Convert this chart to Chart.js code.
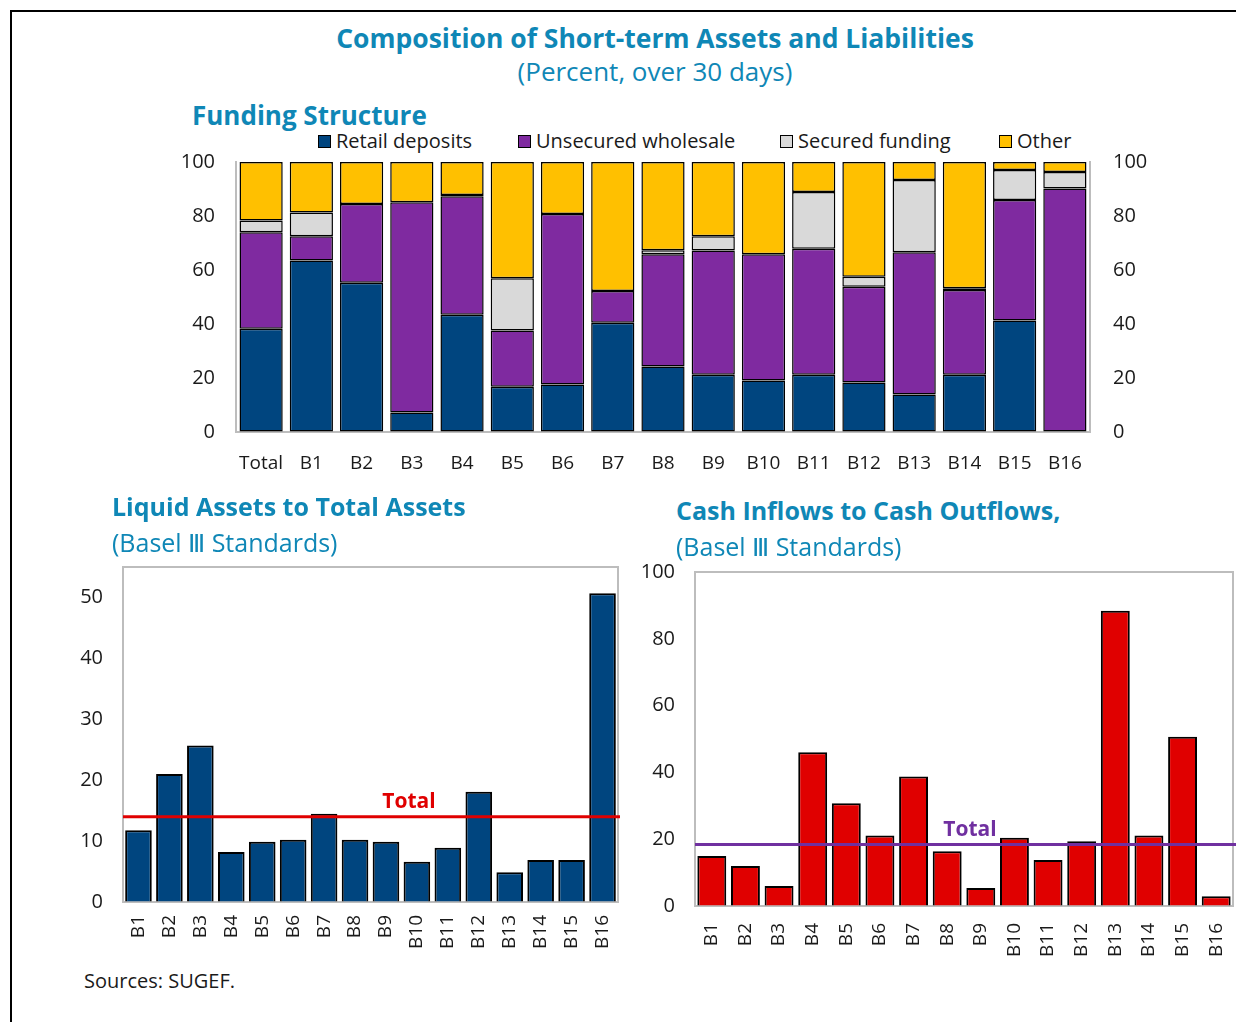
<!DOCTYPE html>
<html lang="en">
<head>
<meta charset="UTF-8">
<title>Composition of Short-term Assets and Liabilities</title>
<script src="https://cdn.jsdelivr.net/npm/chart.js"></script>
<style>
    body { margin: 0; background: #fff; font-family: 'Open Sans', sans-serif; }
    .page { position: relative; width: 1236px; height: 1022px; overflow: hidden; }
    .frame { position: absolute; left: 10px; top: 10px; right: -4px; bottom: -4px; border-left: 2px solid #000; border-top: 2px solid #000; }
    .t { position: absolute; white-space: nowrap; color: #0f87b6; line-height: 1; }
    .b { font-weight: 700; }
    canvas { position: absolute; }
    .legend { position: absolute; top: 131px; left: 0; font-size: 20px; color: #1a1a1a; line-height: 1; }
    .legend span.item { position: absolute; display: flex; align-items: center; white-space: nowrap; }
    .legend i { display: inline-block; width: 11px; height: 11px; border: 1.5px solid #000; margin-right: 5px; }
    .src { position: absolute; left: 84px; top: 967px; font-size: 20px; color: #1a1a1a; }
</style>
</head>
<body>
<div class="page">
    <div class="frame"></div>

    <div class="t b" style="left:0;width:1310px;text-align:center;top:25px;font-size:26.5px;">Composition of Short-term Assets and Liabilities</div>
    <div class="t" style="left:0;width:1310px;text-align:center;top:58px;font-size:26px;">(Percent, over 30 days)</div>

    <div class="t b" style="left:192px;top:102px;font-size:26px;">Funding Structure</div>
    <div class="legend" id="legend"></div>
    <canvas id="fundingChart" width="1030" height="363" style="left:150px;top:127px;"></canvas>

    <div class="t b" style="left:112px;top:494px;font-size:25px;">Liquid Assets to Total Assets</div>
    <div class="t" style="left:112px;top:530px;font-size:25px;">(Basel Ⅲ Standards)</div>
    <canvas id="liquidChart" width="590" height="430" style="left:40px;top:535px;"></canvas>

    <div class="t b" style="left:676px;top:498px;font-size:25px;">Cash Inflows to Cash Outflows,</div>
    <div class="t" style="left:676px;top:534px;font-size:25px;">(Basel Ⅲ Standards)</div>
    <canvas id="inflowChart" width="616" height="425" style="left:620px;top:540px;"></canvas>

    <div class="src">Sources: SUGEF.</div>
</div>

<script>
    // Funding structure, percent of total
    const fundingLabels = ['Total', 'B1', 'B2', 'B3', 'B4', 'B5', 'B6', 'B7', 'B8', 'B9', 'B10', 'B11', 'B12', 'B13', 'B14', 'B15', 'B16'];
    const retailDeposits = [38.2, 63.5, 55.3, 7.2, 43.4, 16.8, 17.6, 40.5, 24.3, 21.2, 19.1, 21.2, 18.3, 13.9, 21.2, 41.3, 0];
    const unsecuredWholesale = [35.8, 9.0, 29.1, 77.9, 43.9, 20.8, 63.1, 11.7, 41.5, 46.0, 46.7, 46.7, 35.5, 52.7, 31.4, 44.6, 90.2];
    const securedFunding = [4.3, 8.8, 0, 0, 0.5, 19.3, 0, 0, 1.5, 5.3, 0, 21.0, 3.7, 26.7, 0.6, 11.1, 6.1];
    const otherFunding = [21.7, 18.7, 15.6, 14.9, 12.2, 43.1, 19.3, 47.8, 32.7, 27.5, 34.2, 11.1, 42.5, 6.7, 46.8, 3.0, 3.7];
    const fundingTicks = [0, 20, 40, 60, 80, 100];

    // Bank ratios
    const bankLabels = ['B1', 'B2', 'B3', 'B4', 'B5', 'B6', 'B7', 'B8', 'B9', 'B10', 'B11', 'B12', 'B13', 'B14', 'B15', 'B16'];
    const liquidAssets = [11.8, 21.0, 25.7, 8.2, 9.9, 10.2, 14.5, 10.2, 9.9, 6.6, 8.9, 18.1, 4.9, 6.9, 6.9, 50.7];
    const liquidTotal = 14.0;
    const liquidTicks = [0, 10, 20, 30, 40, 50];
    const cashInflows = [15.0, 12.0, 6.0, 46.0, 30.8, 21.1, 38.8, 16.4, 5.4, 20.4, 13.8, 19.4, 88.4, 21.1, 50.7, 2.9];
    const inflowTotal = 18.4;
    const inflowTicks = [0, 20, 40, 60, 80, 100];

    const seriesNames = ['Retail deposits', 'Unsecured wholesale', 'Secured funding', 'Other'];
    const seriesColors = ['#00457f', '#7f2aa0', '#d9d9d9', '#ffc000'];
    const legendLeft = [318, 518, 780, 999];

    const FONT = "'Open Sans', sans-serif";
    const TICK_COLOR = '#1a1a1a';
    const AXIS_GREY = '#bdbdbd';

    Chart.defaults.font.family = FONT;
    Chart.defaults.animation = false;

    // legend for the stacked chart
    const legendEl = document.getElementById('legend');
    seriesNames.forEach((name, i) => {
        const item = document.createElement('span');
        item.className = 'item';
        item.style.left = legendLeft[i] + 'px';
        item.innerHTML = '<i style="background:' + seriesColors[i] + '"></i>' + name;
        legendEl.appendChild(item);
    });

    const fixedTicks = list => scale => { scale.ticks = list.map(v => ({ value: v })); };

    // grey frame round the plot area
    const boxPlugin = {
        id: 'box',
        beforeDatasetsDraw(chart) {
            const { ctx, chartArea: a } = chart;
            ctx.save();
            ctx.strokeStyle = AXIS_GREY;
            ctx.lineWidth = 2;
            ctx.strokeRect(a.left, a.top, a.right - a.left, a.bottom - a.top);
            ctx.restore();
        }
    };

    // horizontal line for the system total, with its label
    const totalLine = (value, color, labelX, extendRight) => ({
        id: 'totalLine',
        afterDatasetsDraw(chart) {
            const { ctx, chartArea: a, scales: { y } } = chart;
            const py = y.getPixelForValue(value);
            ctx.save();
            ctx.strokeStyle = color;
            ctx.lineWidth = 3;
            ctx.beginPath();
            ctx.moveTo(a.left, py);
            ctx.lineTo(extendRight ? chart.width : a.right + 2, py);
            ctx.stroke();
            ctx.fillStyle = color;
            ctx.font = 'bold 21px ' + FONT;
            ctx.textAlign = 'center';
            ctx.textBaseline = 'bottom';
            ctx.fillText('Total', labelX, py - 4);
            ctx.restore();
        }
    });

    // empty segments are left out so they don't leave a double border
    const dropZeros = arr => arr.map(v => (v === 0 ? null : v));

    new Chart(document.getElementById('fundingChart'), {
        type: 'bar',
        data: {
            labels: fundingLabels,
            datasets: [retailDeposits, unsecuredWholesale, securedFunding, otherFunding].map((d, i) => ({
                label: seriesNames[i],
                data: dropZeros(d),
                backgroundColor: seriesColors[i],
                borderColor: '#000',
                borderWidth: 1.5,
                borderSkipped: false,
                barPercentage: 0.86,
                categoryPercentage: 1
            }))
        },
        options: {
            responsive: false,
            layout: { padding: { top: 12 } },
            plugins: { legend: { display: false }, tooltip: { enabled: false } },
            scales: {
                x: {
                    stacked: true,
                    grid: { drawOnChartArea: false, drawTicks: false },
                    border: { color: AXIS_GREY, width: 2 },
                    ticks: { color: TICK_COLOR, font: { size: 19 }, padding: 20, maxRotation: 0, autoSkip: false },
                    afterFit(s) { s.height = 58; }
                },
                y: {
                    stacked: true,
                    min: 0, max: 100,
                    afterBuildTicks: fixedTicks(fundingTicks),
                    grid: { drawOnChartArea: false, drawTicks: false },
                    border: { color: AXIS_GREY, width: 2 },
                    ticks: { color: TICK_COLOR, font: { size: 20 }, padding: 21 },
                    afterFit(s) { s.width = 86; }
                },
                y2: {
                    position: 'right',
                    display: true,
                    min: 0, max: 100,
                    afterBuildTicks: fixedTicks(fundingTicks),
                    grid: { drawOnChartArea: false, drawTicks: false },
                    border: { color: AXIS_GREY, width: 2 },
                    ticks: { color: TICK_COLOR, font: { size: 20 }, padding: 23 },
                    afterFit(s) { s.width = 90; }
                }
            }
        }
    });

    function ratioChart(id, values, ticks, max, color, total, totalColor, labelX, extendRight, leftWidth, xHeight, rightPad, labelPad) {
        return new Chart(document.getElementById(id), {
            type: 'bar',
            data: {
                labels: bankLabels,
                datasets: [{
                    data: values,
                    backgroundColor: color,
                    borderColor: '#000',
                    borderWidth: 2,
                    borderSkipped: 'bottom',
                    barPercentage: 0.86,
                    categoryPercentage: 1
                }]
            },
            options: {
                responsive: false,
                layout: { padding: { top: 12, right: rightPad } },
                plugins: { legend: { display: false }, tooltip: { enabled: false } },
                scales: {
                    x: {
                        grid: { drawOnChartArea: false, drawTicks: false },
                        border: { color: AXIS_GREY, width: 2 },
                        ticks: { color: TICK_COLOR, font: { size: 19 }, padding: labelPad, minRotation: 90, maxRotation: 90, autoSkip: false },
                        afterFit(s) { s.height = xHeight; s.paddingLeft = 0; s.paddingRight = 0; }
                    },
                    y: {
                        min: 0, max: max,
                        afterBuildTicks: fixedTicks(ticks),
                        grid: { drawOnChartArea: false, drawTicks: false },
                        border: { color: AXIS_GREY, width: 2 },
                        ticks: { color: TICK_COLOR, font: { size: 20 }, padding: 20 },
                        afterFit(s) { s.width = leftWidth; }
                    }
                }
            },
            plugins: [boxPlugin, totalLine(total, totalColor, labelX, extendRight)]
        });
    }

    ratioChart('liquidChart', liquidAssets, liquidTicks, 55, '#00457f', liquidTotal, '#e00000', 369, false, 83, 63, 12, 13);
    ratioChart('inflowChart', cashInflows, inflowTicks, 100, '#e00000', inflowTotal, '#7030a0', 350, true, 75, 59, 3, 17);
</script>
</body>
</html>
